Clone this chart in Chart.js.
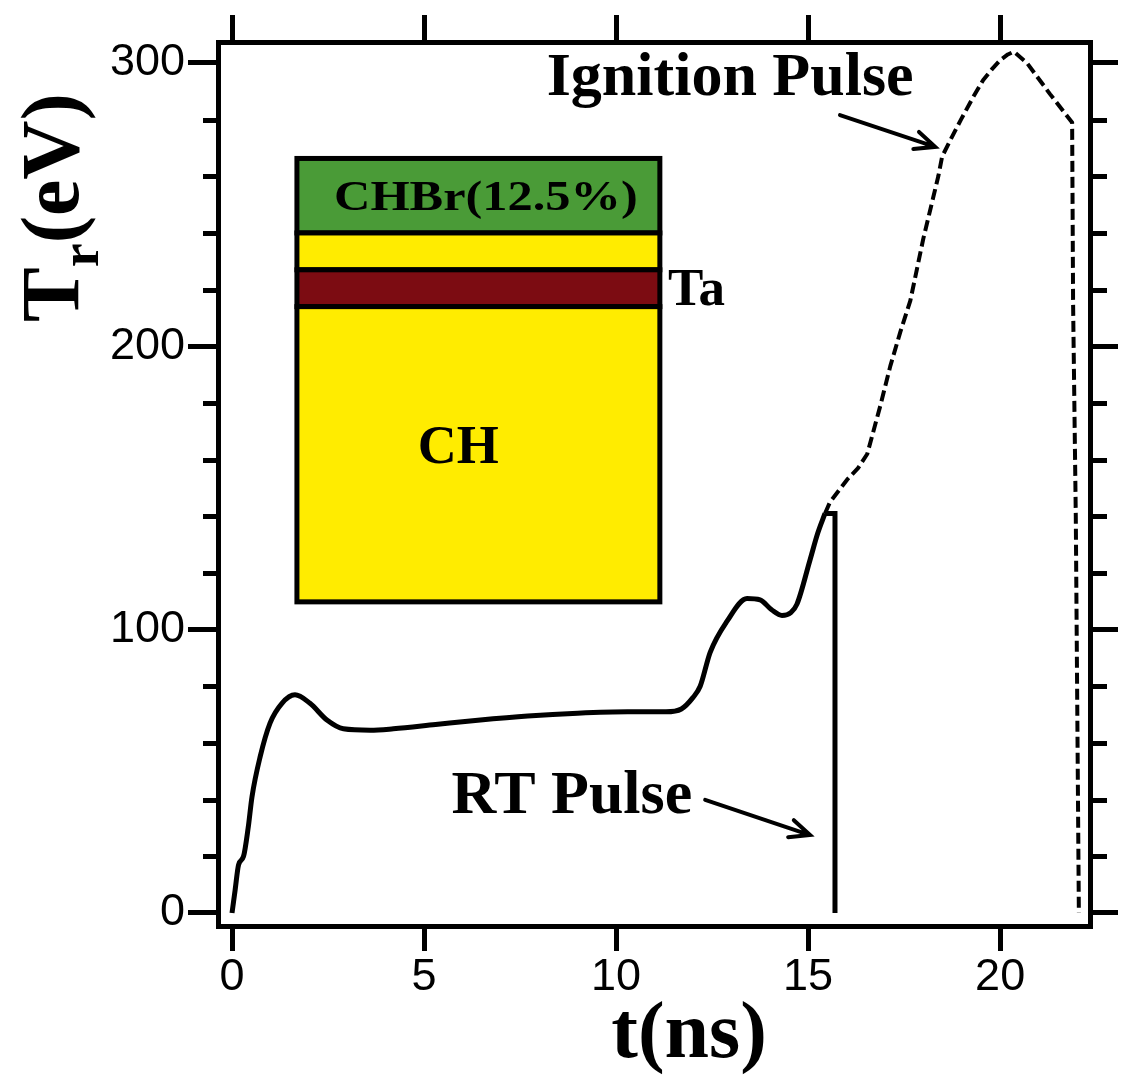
<!DOCTYPE html>
<html>
<head>
<meta charset="utf-8">
<title>Tr(eV) vs t(ns)</title>
<script src="https://cdn.jsdelivr.net/npm/chart.js@4.4.0/dist/chart.umd.min.js"></script>
<style>
html, body { margin: 0; padding: 0; background: #fff; }
</style>
</head>
<body>
<canvas id="pulseGraph" width="1127" height="1078"></canvas>
<script>
const X_TICKS = [0, 5, 10, 15, 20];
const Y_TICKS = [0, 100, 200, 300];
const Y_MINOR = [20, 40, 60, 80, 120, 140, 160, 180, 220, 240, 260, 280];
const X_MIN = -0.365;
const X_MAX = 22.34;
const Y_MIN = -4.6;
const Y_MAX = 307.4;

// drive (foot) pulse, solid line
const rampTime = [0, 0.08, 0.17, 0.3, 0.42, 0.52, 0.73, 0.99, 1.3, 1.64, 2.03, 2.48, 2.9, 3.6, 4.2,
    5.3, 6.4, 7.7, 9.0, 10.3, 11.3, 11.7, 12.0, 12.19, 12.45, 12.89, 13.41, 13.75, 14.05, 14.32,
    14.55, 14.71, 15.05, 15.25, 15.44];
const rampTemp = [0, 8, 17, 20, 30, 41, 55, 67, 74, 77, 74, 68, 65, 64.5, 65,
    66.5, 68, 69.5, 70.5, 71, 71, 72, 76, 80, 92, 103, 111, 110.5, 107, 105,
    106, 109, 124.6, 134, 141];

// RT pulse spike
const rtTime = [15.44, 15.7, 15.7];
const rtTemp = [141, 141, 0];

// ignition pulse, dashed line
const ignTime = [15.44, 15.57, 16.02, 16.3, 16.54, 16.88, 17.14, 17.4, 17.66, 18.0, 18.39, 18.49,
    18.75, 18.98, 19.3, 19.56, 19.8, 20.0, 20.2, 20.36, 20.7, 21.3, 21.875, 21.9, 21.97, 22.05];
const ignTemp = [141, 145, 153, 157, 162, 179, 193, 205, 216, 238, 260, 267,
    274, 280, 288, 294, 298, 301, 303, 304, 300, 289, 279, 215, 140, 0];

// inset target drawing (data units)
const insetTime = [1.69, 11.14];
const layerTop = [266.3, 240.0, 227.0, 214.0];
const layerBottom = [240.0, 227.0, 214.0, 109.8];
const layerColor = ["#4a9b37", "#ffec00", "#7c0c12", "#ffec00"];

const SERIF = "'Liberation Serif', 'Times New Roman', serif";
const SANS = "'Liberation Sans', Arial, sans-serif";

const notes = [
    { text: "Ignition Pulse", t: 12.97, v: 288.7, size: 62, align: "center", sx: 1 },
    { text: "RT Pulse", t: 8.85, v: 35.3, size: 62, align: "center", sx: 1 },
    { text: "CHBr(12.5%)", t: 6.61, v: 248.1, size: 42, align: "center", sx: 1.2 },
    { text: "Ta", t: 11.35, v: 214.6, size: 53, align: "left", sx: 1 },
    { text: "CH", t: 5.89, v: 158.8, size: 54, align: "center", sx: 1 },
];
const arrows = [
    { from: [15.83, 281.6], to: [18.31, 270.4] },
    { from: [12.32, 39.9], to: [15.05, 27.5] },
];

function pts(xs, ys) {
    return xs.map((x, i) => ({ x: x, y: ys[i] }));
}

function frameGrid(len) {
    return {
        drawOnChartArea: false,
        drawTicks: true,
        tickLength: len,
        tickWidth: 5,
        tickColor: "#000",
        color: "#000",
        lineWidth: 5,
    };
}

const frameBorder = { display: true, color: "#000", width: 5 };
const fixTicks = (list) => (scale) => {
    scale.ticks = list.map((v) => ({ value: v }));
};

const insetPlugin = {
    id: "inset",
    beforeDatasetsDraw(chart) {
        const ctx = chart.ctx;
        const xs = chart.scales.x;
        const ys = chart.scales.y;
        const x0 = xs.getPixelForValue(insetTime[0]);
        const x1 = xs.getPixelForValue(insetTime[1]);
        ctx.save();
        for (let i = 0; i < layerTop.length; i++) {
            const y0 = ys.getPixelForValue(layerTop[i]);
            const y1 = ys.getPixelForValue(layerBottom[i]);
            ctx.fillStyle = layerColor[i];
            ctx.fillRect(x0, y0, x1 - x0, y1 - y0);
            ctx.lineWidth = 5;
            ctx.strokeStyle = "#000";
            ctx.strokeRect(x0, y0, x1 - x0, y1 - y0);
        }
        ctx.restore();
    },
    afterDraw(chart) {
        const ctx = chart.ctx;
        const xs = chart.scales.x;
        const ys = chart.scales.y;
        const area = chart.chartArea;
        ctx.save();

        // minor ticks on both sides
        ctx.strokeStyle = "#000";
        ctx.lineWidth = 5;
        Y_MINOR.forEach((v) => {
            const py = Math.round(ys.getPixelForValue(v)) + 0.5;
            ctx.beginPath();
            ctx.moveTo(area.left - 15, py);
            ctx.lineTo(area.left, py);
            ctx.moveTo(area.right, py);
            ctx.lineTo(area.right + 17, py);
            ctx.stroke();
        });

        // labels
        ctx.fillStyle = "#000";
        ctx.textBaseline = "alphabetic";
        notes.forEach((n) => {
            ctx.save();
            ctx.font = "bold " + n.size + "px " + SERIF;
            ctx.textAlign = n.align;
            ctx.translate(xs.getPixelForValue(n.t), ys.getPixelForValue(n.v));
            ctx.scale(n.sx, 1);
            ctx.fillText(n.text, 0, 0);
            ctx.restore();
        });

        // arrows
        ctx.lineWidth = 4;
        ctx.lineCap = "round";
        arrows.forEach((a) => {
            const fx = xs.getPixelForValue(a.from[0]);
            const fy = ys.getPixelForValue(a.from[1]);
            const tx = xs.getPixelForValue(a.to[0]);
            const ty = ys.getPixelForValue(a.to[1]);
            const ang = Math.atan2(ty - fy, tx - fx);
            ctx.beginPath();
            ctx.moveTo(fx, fy);
            ctx.lineTo(tx, ty);
            ctx.moveTo(tx - 22 * Math.cos(ang - 0.42), ty - 22 * Math.sin(ang - 0.42));
            ctx.lineTo(tx, ty);
            ctx.lineTo(tx - 22 * Math.cos(ang + 0.42), ty - 22 * Math.sin(ang + 0.42));
            ctx.stroke();
        });

        // x title
        ctx.font = "bold 80px " + SERIF;
        ctx.textAlign = "center";
        ctx.fillText("t(ns)", xs.getPixelForValue(11.9), 1057);

        // y title with subscript, rotated
        ctx.save();
        ctx.translate(78, 322);
        ctx.rotate(-Math.PI / 2);
        ctx.textAlign = "left";
        ctx.font = "bold 82px " + SERIF;
        ctx.fillText("T", 0, 0);
        let off = ctx.measureText("T").width;
        ctx.font = "bold 54px " + SERIF;
        ctx.fillText("r", off, 20);
        off += ctx.measureText("r").width;
        ctx.font = "bold 82px " + SERIF;
        ctx.fillText("(eV)", off, 0);
        ctx.restore();

        ctx.restore();
    },
};

const ctx = document.getElementById("pulseGraph").getContext("2d");
const chart = new Chart(ctx, {
    type: "line",
    data: {
        datasets: [
            {
                label: "drive",
                data: pts(rampTime, rampTemp),
                borderColor: "#000",
                borderWidth: 5,
                pointRadius: 0,
                cubicInterpolationMode: "monotone",
                borderJoinStyle: "round",
                fill: false,
            },
            {
                label: "RT Pulse",
                data: pts(rtTime, rtTemp),
                borderColor: "#000",
                borderWidth: 5,
                pointRadius: 0,
                tension: 0,
                fill: false,
            },
            {
                label: "Ignition Pulse",
                data: pts(ignTime, ignTemp),
                borderColor: "#000",
                borderWidth: 4,
                borderDash: [11, 5],
                pointRadius: 0,
                tension: 0,
                borderJoinStyle: "round",
                fill: false,
            },
        ],
    },
    options: {
        responsive: false,
        animation: false,
        devicePixelRatio: 1,
        layout: { padding: 0 },
        plugins: {
            legend: { display: false },
            tooltip: { enabled: false },
        },
        scales: {
            x: {
                type: "linear",
                position: "bottom",
                min: X_MIN,
                max: X_MAX,
                afterBuildTicks: fixTicks(X_TICKS),
                afterFit: (s) => { s.height = 152; },
                grid: frameGrid(25),
                border: frameBorder,
                ticks: {
                    color: "#000",
                    padding: 0,
                    maxRotation: 0,
                    autoSkip: false,
                    font: { family: SANS, size: 45 },
                },
            },
            xTop: {
                type: "linear",
                position: "top",
                min: X_MIN,
                max: X_MAX,
                afterBuildTicks: fixTicks(X_TICKS),
                afterFit: (s) => { s.height = 42; },
                grid: frameGrid(27),
                border: frameBorder,
                ticks: { display: false },
            },
            y: {
                type: "linear",
                position: "left",
                min: Y_MIN,
                max: Y_MAX,
                afterBuildTicks: fixTicks(Y_TICKS),
                afterFit: (s) => { s.width = 218; },
                grid: frameGrid(30),
                border: frameBorder,
                ticks: {
                    color: "#000",
                    padding: 3,
                    font: { family: SANS, size: 45 },
                },
            },
            yRight: {
                type: "linear",
                position: "right",
                min: Y_MIN,
                max: Y_MAX,
                afterBuildTicks: fixTicks(Y_TICKS),
                afterFit: (s) => { s.width = 37; },
                grid: frameGrid(28),
                border: frameBorder,
                ticks: { display: false },
            },
        },
    },
    plugins: [insetPlugin],
});
</script>
</body>
</html>
